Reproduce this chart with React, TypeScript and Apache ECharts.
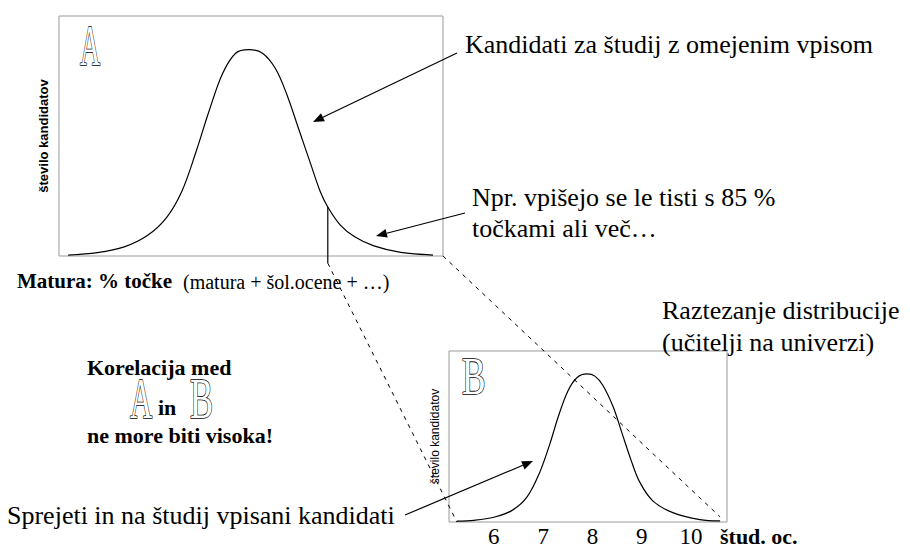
import React, { useEffect, useRef } from "react";
import * as echarts from "echarts";

// Panel A: matura points (%) vs. number of candidates
const aPoints = [51.2, 55, 58.5, 61.5, 64, 66, 67.8, 69.5, 71.3, 73, 74.7, 76.5, 78.2, 79.7, 81.2, 82.7, 84, 85, 86.6, 88.5, 91, 94.5, 98.7];
const aCounts = [0.4, 1.4, 3.8, 8.5, 16, 27, 43, 60, 76, 84.5, 86, 84.5, 78, 67, 53, 39, 27, 20.4, 13, 8, 4.2, 1.5, 0.4];
const aCutoff = 85;

// Panel B: university grade vs. number of candidates
const bGrades = [5.25, 5.6, 6.0, 6.37, 6.67, 6.93, 7.14, 7.3, 7.5, 7.69, 7.89, 8.05, 8.21, 8.42, 8.6, 8.78, 8.96, 9.23, 9.63, 10.18, 10.59];
const bCounts = [0.5, 1.0, 2.8, 6.8, 14.5, 29, 46, 61, 76.5, 84.5, 86.6, 85.3, 80, 67.4, 52, 36.5, 23.3, 12.2, 5.5, 1.4, 0.6];
const bTicks = [6, 7, 8, 9, 10];

const serif = "Liberation Serif";
const sans = "Liberation Sans";

function txt(text: string, x: number, y: number, size: number, extra: any = {}) {
  const { bold, scaleX, fill, stroke, lineWidth, family } = extra;
  return {
    type: "text",
    x,
    y,
    scaleX: scaleX ?? 1,
    z: 100,
    style: {
      text,
      x: 0,
      y: 0,
      fontFamily: family ?? serif,
      fontSize: size,
      fontWeight: bold ? "bold" : "normal",
      fill: fill ?? "#000",
      stroke: stroke,
      lineWidth: lineWidth ?? 0,
      textAlign: "left",
      textVerticalAlign: "middle",
    },
  };
}

function arrow(x1: number, y1: number, x2: number, y2: number) {
  const dx = x2 - x1, dy = y2 - y1;
  const len = Math.hypot(dx, dy);
  const ux = dx / len, uy = dy / len;
  const hl = 11, hw = 4.5;
  const bx = x2 - ux * hl, by = y2 - uy * hl;
  return [
    { type: "line", z: 100, shape: { x1, y1, x2: bx, y2: by }, style: { stroke: "#000", lineWidth: 1.2 } },
    {
      type: "polygon",
      z: 100,
      shape: { points: [[x2, y2], [bx - uy * hw, by + ux * hw], [bx + uy * hw, by - ux * hw]] },
      style: { fill: "#000" },
    },
  ];
}

export default function App() {
  const ref = useRef<HTMLDivElement>(null);
  useEffect(() => {
    document.body.style.margin = "0";
    const chart = echarts.init(ref.current!, null, { renderer: "svg" });
    const border = "#9a9a9a";
    const hidden = {
      axisLine: { show: false },
      axisTick: { show: false },
      splitLine: { show: false },
    };
    const cutCount = aCounts[aPoints.indexOf(aCutoff)];
    chart.setOption({
      animation: false,
      backgroundColor: "#fff",
      grid: [
        { left: 59, top: 16, width: 384, height: 240, show: true, borderColor: border, borderWidth: 1, backgroundColor: "transparent" },
        { left: 449, top: 351, width: 278, height: 172, show: true, borderColor: border, borderWidth: 1, backgroundColor: "transparent" },
      ],
      xAxis: [
        { gridIndex: 0, type: "value", min: 50, max: 100, ...hidden, axisLabel: { show: false } },
        {
          gridIndex: 1,
          type: "value",
          min: 5.09,
          max: 10.73,
          ...hidden,
          axisLabel: {
            customValues: bTicks,
            fontFamily: serif,
            fontSize: 23,
            color: "#000",
            margin: 3,
            formatter: (v: number) => String(v),
          },
        },
      ],
      yAxis: [
        {
          gridIndex: 0,
          type: "value",
          min: 0,
          max: 100,
          ...hidden,
          axisLabel: { show: false },
          name: "število kandidatov",
          nameLocation: "middle",
          nameRotate: 90,
          nameGap: 9,
          nameTextStyle: { fontFamily: sans, fontWeight: "bold", fontSize: 13, color: "#000" },
        },
        {
          gridIndex: 1,
          type: "value",
          min: 0,
          max: 100,
          ...hidden,
          axisLabel: { show: false },
          name: "število kandidatov",
          nameLocation: "middle",
          nameRotate: 90,
          nameGap: 8,
          nameTextStyle: { fontFamily: sans, fontSize: 12, color: "#000" },
        },
      ],
      series: [
        {
          type: "line",
          xAxisIndex: 0,
          yAxisIndex: 0,
          data: aPoints.map((x, i) => [x, aCounts[i]]),
          smooth: 0.35,
          symbol: "none",
          silent: true,
          lineStyle: { color: "#000", width: 1.2 },
        },
        {
          type: "line",
          xAxisIndex: 0,
          yAxisIndex: 0,
          data: [[aCutoff, cutCount], [aCutoff, -3]],
          symbol: "none",
          clip: false,
          silent: true,
          lineStyle: { color: "#000", width: 1.2 },
        },
        {
          type: "line",
          xAxisIndex: 1,
          yAxisIndex: 1,
          data: bGrades.map((x, i) => [x, bCounts[i]]),
          smooth: 0.35,
          symbol: "none",
          silent: true,
          lineStyle: { color: "#000", width: 1.2 },
        },
      ],
    });

    const pCut = chart.convertToPixel({ gridIndex: 0 }, [aCutoff, -3]) as number[];
    const pB0 = chart.convertToPixel({ gridIndex: 1 }, [bGrades[0], 0]) as number[];
    const pAEnd = chart.convertToPixel({ gridIndex: 0 }, [100, 0]) as number[];
    const pBEnd = chart.convertToPixel({ gridIndex: 1 }, [bGrades[bGrades.length - 1], 3]) as number[];
    const dash = { stroke: "#000", lineWidth: 1, lineDash: [4, 5] };

    const outline = { fill: "#fff", stroke: "#000", lineWidth: 1.6 };

    chart.setOption({
      graphic: [
        { type: "line", z: 90, shape: { x1: pCut[0], y1: pCut[1], x2: pB0[0], y2: pB0[1] }, style: dash },
        { type: "line", z: 90, shape: { x1: pAEnd[0], y1: pAEnd[1], x2: pBEnd[0], y2: pBEnd[1] }, style: dash },
        ...arrow(457, 53, 313, 122),
        ...arrow(465, 213, 376, 236),
        ...arrow(405, 515, 533, 461),
        txt("A", 80, 47, 56, { ...outline, scaleX: 0.5 }),
        txt("B", 462, 376, 52, { ...outline, scaleX: 0.68 }),
        txt("Kandidati za študij z omejenim vpisom", 465, 44, 26),
        txt("Npr. vpišejo se le tisti s 85 %", 472, 197, 26),
        txt("točkami ali več…", 472, 228, 26),
        txt("Matura: % točke", 17, 281, 21, { bold: true }),
        txt("(matura + šol.ocene + …)", 183, 282, 20),
        txt("Raztezanje distribucije", 662, 310, 26),
        txt("(učitelji na univerzi)", 662, 342, 26),
        txt("Korelacija med", 87, 367, 22, { bold: true }),
        txt("A", 130, 399, 56, { ...outline, scaleX: 0.55 }),
        txt("in", 158, 407, 22, { bold: true }),
        txt("B", 190, 399, 56, { ...outline, scaleX: 0.62 }),
        txt("ne more biti visoka!", 87, 435, 22, { bold: true }),
        txt("Sprejeti in na študij vpisani kandidati", 7, 515, 26),
        txt("štud. oc.", 720, 536, 22, { bold: true }),
      ],
    });

    return () => chart.dispose();
  }, []);
  return <div ref={ref} style={{ width: 910, height: 548 }} />;
}
